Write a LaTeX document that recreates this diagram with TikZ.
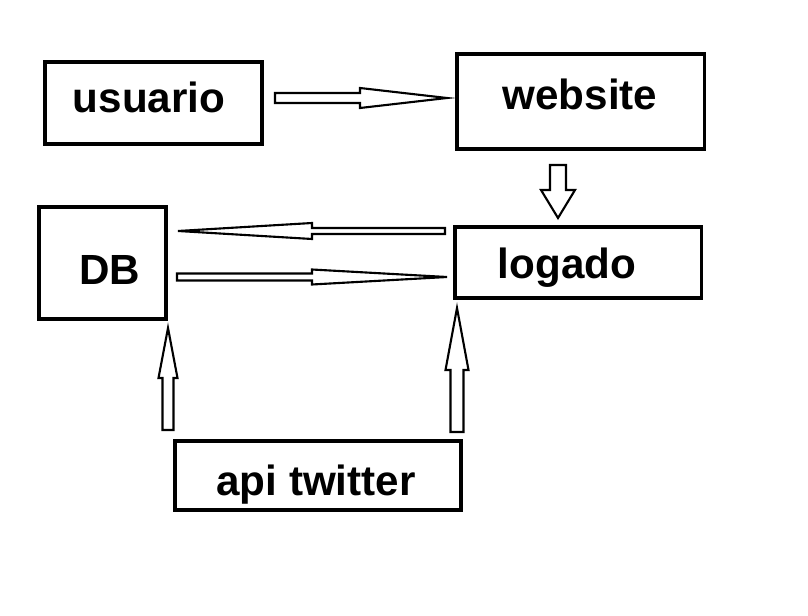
\documentclass[tikz,border=0pt]{standalone}
\usepackage{fontspec}
\setmainfont{Liberation Sans}
\usetikzlibrary{calc}

% block arrow drawn as an outline: from, to, shaft half width, head half width, head length (px)
\newcommand{\blockarrow}[5]{%
  \coordinate (ba-head) at ($(#2)!#5*0.025cm!(#1)$);
  \draw[arrowline] ($(#1)!#3*0.025cm!90:(#2)$) -- ($(ba-head)!#3*0.025cm!90:(#2)$)
    -- ($(ba-head)!#4*0.025cm!90:(#2)$) -- (#2)
    -- ($(ba-head)!#4*0.025cm!-90:(#2)$) -- ($(ba-head)!#3*0.025cm!-90:(#2)$)
    -- ($(#1)!#3*0.025cm!-90:(#2)$) -- cycle;}

\begin{document}
\begin{tikzpicture}[
  x=0.025cm, y=-0.025cm,
  box/.style={draw, line width=2.5pt, inner sep=0pt},
  boxtext/.style={font=\fontsize{30}{36}\selectfont\bfseries, inner sep=0pt, anchor=base},
  arrowline/.style={draw, line width=1.5pt, fill=white}
]
\useasboundingbox (0,0) rectangle (808,616);

% boxes
\node[box, minimum width={217.5*0.025cm}, minimum height={82.5*0.025cm}] (usr) at (153.5,103) {};
\node[box, minimum width={247.5*0.025cm}, minimum height={95.5*0.025cm}] (web) at (580.5,101.5) {};
\node[box, minimum width={127.5*0.025cm}, minimum height={112.5*0.025cm}] (db)  at (102.5,263) {};
\node[box, minimum width={246.5*0.025cm}, minimum height={71.5*0.025cm}] (log) at (578,262.5) {};
\node[box, minimum width={286.5*0.025cm}, minimum height={69.5*0.025cm}] (api) at (318,475.5) {};

% texts
\node[boxtext] (usrT) at (149,113) {usuario};
\node[boxtext] (webT) at (580,110) {website};
\node[boxtext] (dbT)  at (110,284) {DB};
\node[boxtext] (logT) at (567,278) {logado};
\node[boxtext] (apiT) at (316,495) {api twitter};

% arrow ends
\coordinate (usrOut)  at (275,98);
\coordinate (webIn)   at (447,98);
\coordinate (webOut)  at (558,165);
\coordinate (logIn)   at (558,218);
\coordinate (logDbS)  at (445,231);
\coordinate (logDbT)  at (178,231);
\coordinate (dbLogS)  at (177,277);
\coordinate (dbLogT)  at (447,277);
\coordinate (apiDbS)  at (168,430);
\coordinate (apiDbT)  at (168,328);
\coordinate (apiLogS) at (457,432);
\coordinate (apiLogT) at (457,308);

% arrows
\blockarrow{usrOut}{webIn}{5}{10}{87}
\blockarrow{webOut}{logIn}{8}{17}{28}
\blockarrow{logDbS}{logDbT}{3}{8}{134}
\blockarrow{dbLogS}{dbLogT}{3.5}{7.5}{135}
\blockarrow{apiDbS}{apiDbT}{5.5}{9.5}{50}
\blockarrow{apiLogS}{apiLogT}{6.5}{11.5}{62}

\end{tikzpicture}
\end{document}
